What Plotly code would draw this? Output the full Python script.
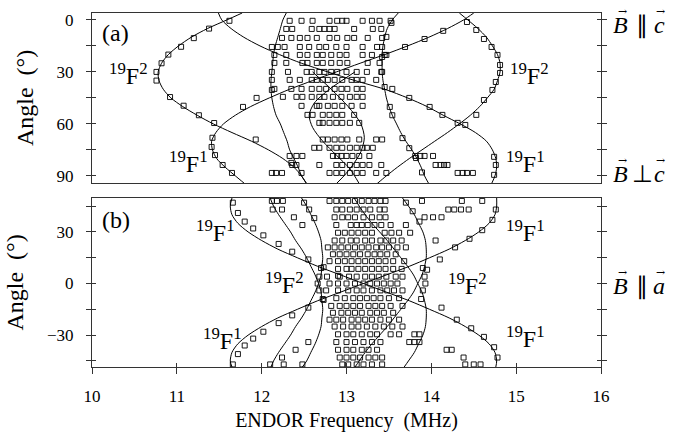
import plotly.graph_objects as go

# ---------------- panel (a): rotation c -> perpendicular c ----------------
a_ang = [-4, 0, 5, 10, 15, 20, 25, 30, 35, 40, 45, 50, 55, 60, 65, 70, 75, 80, 85, 90, 94.5]
a_L2 = [11.77, 11.59, 11.36, 11.17, 11.02, 10.90, 10.82, 10.78, 10.79, 10.84, 10.93, 11.07, 11.24, 11.43, 11.65, 11.88, 12.08, 12.25, 12.38, 12.47, 12.53]
a_H2 = [14.33, 14.43, 14.55, 14.65, 14.72, 14.78, 14.81, 14.81, 14.78, 14.74, 14.66, 14.57, 14.46, 14.33, 14.19, 14.04, 13.89, 13.74, 13.60, 13.47, 13.36]
a_L1 = [14.50, 14.38, 14.19, 13.97, 13.72, 13.45, 13.16, 12.88, 12.60, 12.33, 12.09, 11.87, 11.69, 11.55, 11.46, 11.41, 11.42, 11.47, 11.57, 11.69, 11.80]
a_H1 = [11.49, 11.53, 11.64, 11.79, 11.98, 12.21, 12.47, 12.78, 13.10, 13.45, 13.72, 13.95, 14.14, 14.34, 14.52, 14.65, 14.72, 14.76, 14.77, 14.75, 14.71]
a_V1 = [12.29, 12.25, 12.22, 12.19, 12.16, 12.14, 12.13, 12.12, 12.11, 12.11, 12.12, 12.14, 12.17, 12.22, 12.26, 12.30, 12.33, 12.38, 12.43, 12.47, 12.53]
a_V2 = [13.61, 13.54, 13.48, 13.45, 13.43, 13.42, 13.42, 13.42, 13.43, 13.45, 13.47, 13.50, 13.54, 13.59, 13.64, 13.70, 13.77, 13.83, 13.88, 13.92, 13.97]
a_W1_ang = [30, 40, 48, 55, 62, 70, 78, 86, 94.5]
a_W1 = [13.10, 12.80, 12.62, 12.56, 12.60, 12.72, 12.88, 13.04, 13.15]
a_W2_ang = [30, 40, 50, 60, 68, 76, 84, 90, 94.5]
a_W2 = [12.60, 12.82, 13.02, 13.17, 13.21, 13.17, 13.07, 12.97, 12.88]

# measured points (a): frequency / angle
a_pts_f = [11.62, 11.38, 11.20, 11.05, 10.90, 10.82, 10.76, 10.76, 10.92, 11.08, 11.26, 11.44, 11.93, 12.35,
           14.42, 14.53, 14.62, 14.71, 14.78, 14.81, 14.81, 14.76, 14.72, 14.62, 14.53, 14.40,
           11.42, 11.41, 11.45, 11.54, 11.65, 11.78, 11.94, 12.12, 13.45, 13.69, 13.92, 14.14,
           14.31, 14.13, 13.98, 13.74, 13.54, 14.74, 14.76, 14.74,
           13.53, 13.47, 13.42, 13.42, 13.42, 13.45, 13.51, 13.54, 13.66, 13.74, 13.82, 13.89]
a_pts_ang = [0.5, 5, 10.5, 15.5, 20, 25, 30, 35, 44.5, 49.5, 55, 59.5, 69, 82.5,
             1.2, 5.8, 11, 15.6, 20.2, 26, 30.6, 35.8, 40.4, 46.2, 54.8, 60.6,
             68, 73.3, 78, 83.7, 88.3, 50.2, 45, 40.4, 20.2, 15.6, 11, 6.3,
             59.4, 54.8, 50.2, 45, 39.8, 79, 83.7, 89.4,
             1.7, 9.8, 15.6, 21.4, 30, 38.7, 50.2, 55, 68.2, 74, 79.7, 88]
a_rows = {
    0.5: [12.33, 12.47, 12.60, 12.80, 12.89, 12.95, 13.00, 13.19, 13.30, 13.39, 13.52],
    5.2: [12.29, 12.36, 12.59, 12.68, 12.74, 12.80, 12.86, 13.09, 13.31, 13.41],
    10.4: [12.24, 12.35, 12.45, 12.54, 12.65, 12.80, 12.89, 13.01, 13.09, 13.25, 13.42],
    15.6: [12.12, 12.19, 12.27, 12.45, 12.56, 12.68, 12.76, 12.88, 13.00, 13.19, 13.36],
    20.2: [12.15, 12.29, 12.45, 12.54, 12.65, 12.72, 12.82, 12.92, 13.00, 13.19, 13.30, 13.47],
    24.8: [12.15, 12.29, 12.48, 12.54, 12.65, 12.72, 12.82, 12.92, 13.01, 13.25, 13.39],
    30.0: [12.12, 12.31, 12.53, 12.59, 12.68, 12.74, 12.82, 12.89, 13.00, 13.12, 13.24, 13.41],
    34.6: [12.12, 12.33, 12.45, 12.59, 12.65, 12.72, 12.78, 12.86, 12.95, 13.06, 13.12, 13.19, 13.35],
    39.8: [12.15, 12.35, 12.47, 12.59, 12.68, 12.76, 12.86, 12.94, 13.01, 13.12, 13.19],
    44.4: [12.25, 12.41, 12.48, 12.59, 12.68, 12.74, 12.84, 12.94, 13.04, 13.12, 13.19],
    49.6: [12.47, 12.65, 12.68, 12.78, 12.86, 12.95, 13.06, 13.19],
    54.8: [12.54, 12.60, 12.72, 12.80, 12.88, 12.95, 13.09],
    59.4: [12.68, 12.72, 12.80, 12.88, 12.95, 13.04, 13.15],
    69.0: [12.72, 12.78, 12.86, 12.94, 13.01, 13.15, 13.35, 13.42],
    73.8: [12.62, 12.68, 12.80, 12.88, 12.95, 13.04, 13.12, 13.19, 13.31, 13.24],
    78.5: [12.33, 12.41, 12.48, 12.84, 12.89, 12.94, 13.00, 13.07, 13.15, 13.27, 13.81, 13.87, 13.92, 14.02],
    83.7: [12.36, 12.41, 12.68, 12.88, 12.95, 13.04, 13.12, 13.19, 13.27, 13.41, 14.05, 14.11, 14.15, 14.19],
    88.3: [12.12, 12.17, 12.24, 12.47, 12.80, 12.88, 12.95, 13.04, 13.12, 13.19, 13.35, 13.47, 14.31, 14.37, 14.42, 14.49],
}

# ---------------- panel (b): rotation through B || a ----------------
b_ang = [49.7, 45, 40, 35, 30, 25, 20, 15, 10, 5, 0, -5, -10, -15, -20, -25, -30, -35, -40, -45, -48.5]
b_F1a = [11.65, 11.63, 11.65, 11.72, 11.84, 12.00, 12.19, 12.42, 12.66, 12.93, 13.20, 13.47, 13.74, 13.98, 14.21, 14.40, 14.56, 14.68, 14.75, 14.77, 14.76]
b_F1b = [14.77, 14.77, 14.75, 14.68, 14.56, 14.40, 14.21, 13.98, 13.74, 13.47, 13.20, 12.93, 12.66, 12.42, 12.19, 12.00, 11.84, 11.72, 11.65, 11.63, 11.65]
b_F2a = [12.47, 12.53, 12.58, 12.63, 12.67, 12.70, 12.71, 12.72, 12.71, 12.70, 12.67, 12.63, 12.58, 12.53, 12.47, 12.40, 12.34, 12.27, 12.20, 12.14, 12.11]
b_F2c = [12.10, 12.14, 12.20, 12.27, 12.34, 12.40, 12.47, 12.53, 12.58, 12.63, 12.67, 12.70, 12.71, 12.72, 12.71, 12.70, 12.67, 12.63, 12.58, 12.53, 12.48]
b_F2b = [13.66, 13.73, 13.80, 13.85, 13.90, 13.93, 13.94, 13.94, 13.92, 13.89, 13.84, 13.79, 13.72, 13.64, 13.56, 13.48, 13.39, 13.30, 13.22, 13.15, 13.10]
b_F2d = [13.09, 13.15, 13.22, 13.30, 13.39, 13.48, 13.56, 13.64, 13.72, 13.79, 13.84, 13.89, 13.92, 13.94, 13.94, 13.93, 13.90, 13.85, 13.80, 13.73, 13.68]

b_pts_f = [11.66, 11.72, 11.80, 11.90, 12.02, 12.20, 12.36, 12.55, 12.73, 12.90,
           11.66, 11.72, 11.80, 11.90, 12.02, 12.20, 12.36, 12.55, 12.73,
           14.76, 14.72, 14.60, 14.45, 14.28, 14.10, 13.95,
           14.78, 14.74, 14.62, 14.47, 14.30, 14.12,
           12.70, 12.68, 12.66, 12.68, 12.72, 13.90, 13.92, 13.93, 13.90, 13.88,
           12.50, 12.56, 12.62, 13.70, 13.78, 13.86]
b_pts_ang = [47, 41, 36, 32, 28, 23, 18.5, 14, 9.5, 4.5,
             -47, -41, -36, -32, -28, -23, -18.5, -14, -9.5,
             43, 37, 31, 26, 21, 14, 8,
             -43, -37, -31, -26, -21, -14,
             9, 4, 0, -4, -9, 9, 4, 0, -4, -9,
             47, 43, 38, 47, 42, 36]
b_rows = {
    48.0: [12.12, 12.18, 12.25, 12.80, 12.88, 12.95, 13.02, 13.10, 13.18, 13.26, 13.33, 13.40, 13.46, 13.89, 14.36, 14.60],
    43.0: [12.13, 12.24, 12.88, 12.95, 13.04, 13.12, 13.20, 13.28, 13.39, 13.45, 14.20, 14.27, 14.35, 14.44],
    38.5: [12.38, 12.86, 12.95, 13.02, 13.10, 13.20, 13.30, 13.39, 13.46, 13.92, 14.02, 14.12],
    34.0: [12.48, 12.88, 13.05, 13.12, 13.18, 13.25, 13.33, 13.41, 13.52, 13.70],
    29.5: [12.90, 12.98, 13.06, 13.14, 13.22, 13.30, 13.45, 13.53, 13.62, 13.75],
    25.0: [12.86, 12.95, 13.05, 13.12, 13.22, 13.30, 13.40, 13.47, 13.55, 13.65, 14.05],
    21.0: [12.78, 12.86, 12.94, 13.02, 13.10, 13.18, 13.26, 13.35, 13.42, 13.50, 13.60, 13.70],
    17.0: [12.84, 12.92, 13.00, 13.08, 13.16, 13.25, 13.33, 13.40, 13.48, 13.58],
    13.0: [12.80, 12.90, 12.98, 13.06, 13.14, 13.22, 13.30, 13.38, 13.46, 13.55, 13.68],
    8.5: [12.90, 13.00, 13.06, 13.14, 13.22, 13.30, 13.38, 13.46, 13.55, 13.65],
    4.0: [12.77, 12.92, 13.03, 13.12, 13.22, 13.30, 13.38, 13.47, 13.58, 13.66],
    0.0: [12.80, 12.90, 13.00, 13.10, 13.20, 13.28, 13.36, 13.44, 13.52, 13.60],
    -4.0: [12.76, 12.90, 13.02, 13.12, 13.20, 13.30, 13.40, 13.48, 13.56, 13.66],
    -8.5: [12.88, 12.98, 13.08, 13.16, 13.24, 13.32, 13.40, 13.50, 13.62],
    -13.0: [12.82, 12.92, 13.00, 13.08, 13.16, 13.26, 13.34, 13.42, 13.52, 13.66],
    -17.0: [12.84, 12.94, 13.02, 13.10, 13.18, 13.28, 13.36, 13.44, 13.55],
    -21.0: [12.80, 12.88, 12.96, 13.06, 13.14, 13.22, 13.30, 13.40, 13.50, 13.62],
    -25.0: [12.86, 12.96, 13.06, 13.14, 13.24, 13.34, 13.44, 13.54, 13.66],
    -29.5: [12.90, 13.00, 13.08, 13.18, 13.28, 13.36, 13.52, 13.62, 13.80, 13.86],
    -34.0: [12.55, 12.88, 13.00, 13.10, 13.20, 13.30, 13.40, 13.74, 13.80, 13.86],
    -38.5: [12.40, 12.90, 13.00, 13.08, 13.18, 13.26, 13.36, 14.18, 14.24],
    -43.0: [12.24, 12.92, 13.00, 13.08, 13.16, 13.26, 13.34, 13.42, 14.38],
    -47.0: [12.10, 12.26, 12.48, 12.95, 13.02, 13.12, 13.20, 13.30, 13.42, 14.40, 14.50, 14.58],
}

LINE = dict(color="black", width=1, shape="spline", smoothing=0.8)
MK = dict(symbol="square-open", size=5, color="black", line=dict(width=0.9, color="black"))

fig = go.Figure()


def add_curve(fr, an, xa, ya):
    fig.add_trace(go.Scatter(x=fr, y=an, mode="lines", line=LINE, xaxis=xa, yaxis=ya,
                             showlegend=False, hoverinfo="skip"))


for c in (a_L2, a_H2, a_L1, a_H1, a_V1, a_V2):
    add_curve(c, a_ang, "x", "y")
add_curve(a_W1, a_W1_ang, "x", "y")
add_curve(a_W2, a_W2_ang, "x", "y")
for c in (b_F1a, b_F1b, b_F2a, b_F2c, b_F2b, b_F2d):
    add_curve(c, b_ang, "x2", "y2")

ax_f, ax_a = list(a_pts_f), list(a_pts_ang)
for ang, fs in a_rows.items():
    ax_f += fs
    ax_a += [ang] * len(fs)
fig.add_trace(go.Scatter(x=ax_f, y=ax_a, mode="markers", marker=MK, xaxis="x", yaxis="y",
                         showlegend=False, hoverinfo="skip"))
bx_f, bx_a = list(b_pts_f), list(b_pts_ang)
for ang, fs in b_rows.items():
    bx_f += fs
    bx_a += [ang] * len(fs)
fig.add_trace(go.Scatter(x=bx_f, y=bx_a, mode="markers", marker=MK, xaxis="x2", yaxis="y2",
                         showlegend=False, hoverinfo="skip"))

SERIF = "Liberation Serif, Times New Roman, serif"
FRAME = dict(showline=True, linecolor="#333", linewidth=1, showgrid=False, zeroline=False,
             automargin=False)
TK = "#333"

a_top, a_bot = 1.0, 0.5198
b_top, b_bot = 0.4774, 0.0
a_range = [94.1, -4.0]
b_range = [-48.5, 49.7]

fig.update_layout(
    width=673, height=433, margin=dict(l=92, r=72, t=13, b=66, autoexpand=False),
    paper_bgcolor="white", plot_bgcolor="white",
    font=dict(family=SERIF, size=17, color="black"),
    xaxis=dict(**FRAME, mirror=True, domain=[0, 1], range=[10, 16], anchor="y",
               showticklabels=False, ticks=""),
    yaxis=dict(**FRAME, mirror="allticks", domain=[a_bot, a_top], range=a_range, anchor="x",
               tickvals=[0, 30, 60, 90], ticks="outside", ticklen=5, tickcolor=TK,
               minor=dict(tickvals=[15, 45, 75], ticks="outside", ticklen=5, tickcolor=TK),
               ticklabelstandoff=9,
               title=dict(text="Angle  (\u00b0)", font=dict(size=24), standoff=16)),
    xaxis2=dict(**FRAME, mirror=True, domain=[0, 1], range=[10, 16], anchor="y2",
                tickvals=[10, 11, 12, 13, 14, 15, 16], ticks="outside", ticklen=6, tickcolor=TK,
                ticklabelstandoff=8,
                title=dict(text="ENDOR Frequency  (MHz)", font=dict(size=20), standoff=7)),
    yaxis2=dict(**FRAME, mirror="allticks", domain=[b_bot, b_top], range=b_range, anchor="x2",
                tickvals=[-30, 0, 30], ticktext=["\u221230", "0", "30"],
                ticks="outside", ticklen=5, tickcolor=TK,
                minor=dict(tickvals=[-45, -15, 15, 45], ticks="outside", ticklen=5, tickcolor=TK),
                ticklabelstandoff=9,
                title=dict(text="Angle  (\u00b0)", font=dict(size=24), standoff=16)),
    # inner halves of the crossing tick marks
    yaxis3=dict(overlaying="y", anchor="x", range=a_range, tickvals=[0, 15, 30, 45, 60, 75, 90],
                ticks="inside", ticklen=4, tickcolor=TK, showticklabels=False, showgrid=False,
                zeroline=False, mirror="allticks", showline=False, automargin=False),
    yaxis4=dict(overlaying="y2", anchor="x2", range=b_range, tickvals=[-45, -30, -15, 0, 15, 30, 45],
                ticks="inside", ticklen=4, tickcolor=TK, showticklabels=False, showgrid=False,
                zeroline=False, mirror="allticks", showline=False, automargin=False),
    xaxis3=dict(overlaying="x2", anchor="y2", range=[10, 16], tickvals=[11, 12, 13, 14, 15],
                ticks="inside", ticklen=4, tickcolor=TK, showticklabels=False, showgrid=False,
                zeroline=False, showline=False, automargin=False),
)

# dummy traces to activate overlay axes
fig.add_trace(go.Scatter(x=[None], y=[None], xaxis="x", yaxis="y3", showlegend=False))
fig.add_trace(go.Scatter(x=[None], y=[None], xaxis="x2", yaxis="y4", showlegend=False))
fig.add_trace(go.Scatter(x=[None], y=[None], xaxis="x3", yaxis="y2", showlegend=False))

F = "<sup>19</sup>F<sup>%d</sup>"
labels = [
    ("x", "y", 10.1, 7.5, "(a)", 24),
    ("x", "y", 10.18, 31, F % 2, 24),
    ("x", "y", 14.9, 31, F % 2, 24),
    ("x", "y", 10.88, 82, F % 1, 24),
    ("x", "y", 14.86, 82, F % 1, 24),
    ("x2", "y2", 10.1, 37, "(b)", 24),
    ("x2", "y2", 11.2, 30.5, F % 1, 24),
    ("x2", "y2", 12.02, 0.5, F % 2, 24),
    ("x2", "y2", 11.28, -32, F % 1, 24),
    ("x2", "y2", 14.86, 30.5, F % 1, 24),
    ("x2", "y2", 14.17, -0.5, F % 2, 24),
    ("x2", "y2", 14.86, -31, F % 1, 24),
]
for xr, yr, xv, yv, txt, sz in labels:
    fig.add_annotation(xref=xr, yref=yr, x=xv, y=yv, text=txt, showarrow=False, xanchor="left",
                       yanchor="middle", font=dict(size=sz, family=SERIF, color="black"))

# right-hand field-direction labels, built from pieces (letter, relation, letter, arrows)
side = [
    ("y", 3.0, "\u2225", "c"),
    ("y", 89.0, "\u22a5", "c"),
    ("y2", -1.7, "\u2225", "a"),
]
for yr, yv, rel, v in side:
    for dx, txt in ((19, "<i>B</i>"), (41, rel), (58, "<i>%s</i>" % v)):
        fig.add_annotation(xref="paper", yref=yr, x=1.0, y=yv, xshift=dx, text=txt,
                           showarrow=False, xanchor="center", yanchor="middle",
                           font=dict(size=24, family=SERIF, color="black"))
    for dx in (21, 59):
        fig.add_annotation(xref="paper", yref=yr, x=1.0, y=yv, xshift=dx, yshift=14, text="\u2192",
                           showarrow=False, xanchor="center", yanchor="middle",
                           font=dict(size=11, family="DejaVu Serif", color="black"))

fig.write_html("out.html")
